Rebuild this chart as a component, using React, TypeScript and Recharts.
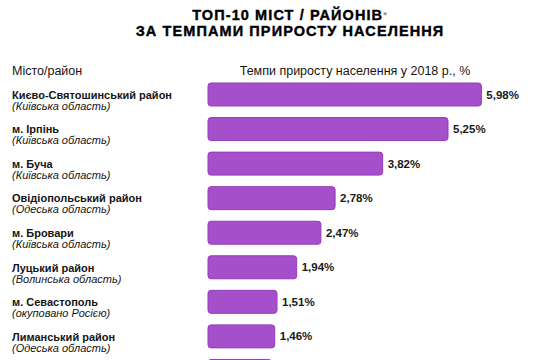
import { BarChart, Bar, XAxis, YAxis, LabelList } from 'recharts';

const cities = [
  'Києво-Святошинський район',
  'м. Ірпінь',
  'м. Буча',
  'Овідіопольський район',
  'м. Бровари',
  'Луцький район',
  'м. Севастополь',
  'Лиманський район',
  '',
];

const regions = [
  '(Київська область)',
  '(Київська область)',
  '(Київська область)',
  '(Одеська область)',
  '(Київська область)',
  '(Волинська область)',
  '(окуповано Росією)',
  '(Одеська область)',
  '',
];

const growth = [5.98, 5.25, 3.82, 2.78, 2.47, 1.94, 1.51, 1.46, 1.39];

const font = '"Liberation Sans", Arial, sans-serif';
const data = cities.map((city, i) => ({ city, region: regions[i], growth: growth[i] }));

const fmt = (v: number) => `${v.toFixed(2).replace('.', ',')}%`;

// two-line category label: bold name + italic region
function CityTick(props: any) {
  const { y, payload } = props;
  const i = payload.index ?? props.index;
  return (
    <g>
      <text x={12} y={y + 4.5} fill="#151515" fontSize={11} fontWeight="bold" fontFamily={font}>
        {payload.value}
      </text>
      <text x={12} y={y + 15.5} fill="#151515" fontSize={11} fontStyle="italic" fontFamily={font}>
        {regions[i]}
      </text>
    </g>
  );
}

export default function App() {
  return (
    <div style={{ position: 'absolute', left: 0, top: 0, width: 537, height: 360, overflow: 'hidden', background: '#fff', fontFamily: font }}>
      <div
        style={{
          position: 'absolute',
          left: 90,
          top: 8,
          width: 400,
          textAlign: 'center',
          fontSize: 14.5,
          fontWeight: 900,
          lineHeight: '15.5px',
          letterSpacing: 1.1,
          WebkitTextStroke: '0.4px #000',
          color: '#000',
        }}
      >
        ТОП-10 МІСТ / РАЙОНІВ<span style={{ fontSize: 9, verticalAlign: 'top', color: '#888', WebkitTextStroke: '0px' }}>*</span>
        <br />
        ЗА ТЕМПАМИ ПРИРОСТУ НАСЕЛЕННЯ
      </div>
      <div style={{ position: 'absolute', left: 12, top: 64, fontSize: 12.5, color: '#151515' }}>Місто/район</div>
      <div style={{ position: 'absolute', left: 155, top: 64, width: 400, textAlign: 'center', fontSize: 12.5, color: '#151515' }}>
        Темпи приросту населення у 2018 р., %
      </div>
      <BarChart
        width={537}
        height={388}
        data={data}
        layout="vertical"
        margin={{ top: 77, right: 9, left: 0, bottom: 0 }}
        barCategoryGap={6}
      >
        <XAxis type="number" domain={[0, 7]} hide />
        <YAxis
          type="category"
          dataKey="city"
          width={208}
          axisLine={false}
          tickLine={false}
          interval={0}
          tick={<CityTick />}
        />
        <Bar dataKey="growth" fill="#a54fca" stroke="#973bbd" strokeWidth={1} radius={3} isAnimationActive={false}>
          <LabelList
            dataKey="growth"
            position="right"
            offset={5}
            formatter={(v: any) => fmt(Number(v))}
            style={{ fill: '#1a1a1a', fontSize: 11.5, fontWeight: 'bold', fontFamily: font }}
          />
        </Bar>
      </BarChart>
    </div>
  );
}
